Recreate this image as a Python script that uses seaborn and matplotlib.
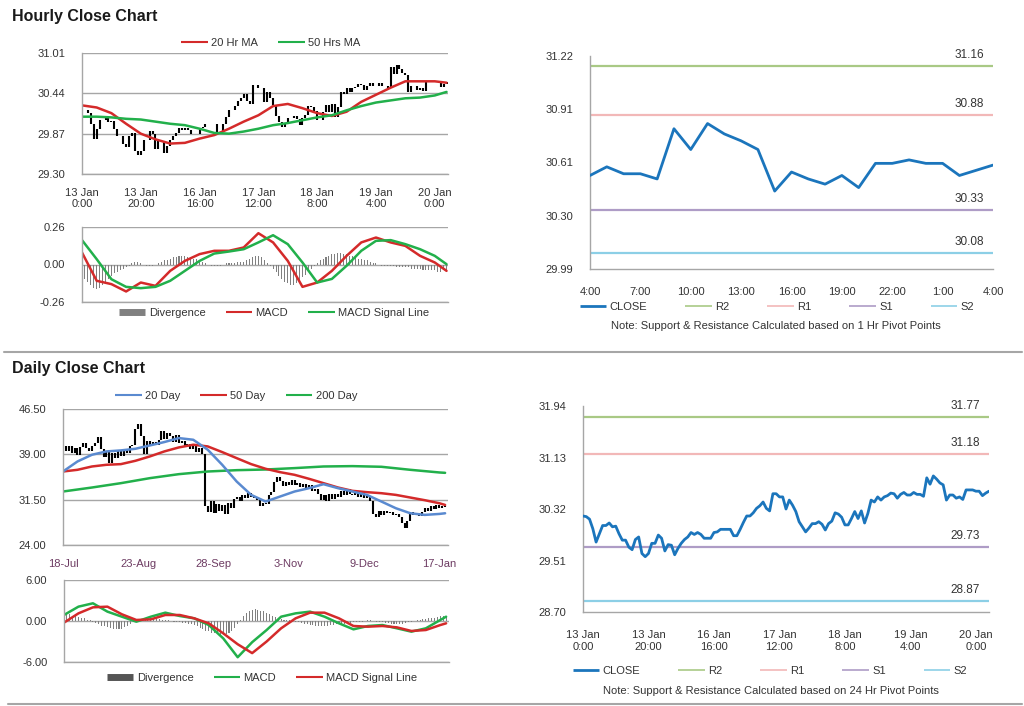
import numpy as np
import matplotlib
matplotlib.use('Agg')
import matplotlib.pyplot as plt
from matplotlib.lines import Line2D
from matplotlib.ticker import FormatStrFormatter
import seaborn as sns

# ---------------- hourly data (13 Jan 0:00 -> 20 Jan ~4:00) ----------------
hourly_close = [30.21, 30.20, 30.16, 30.01, 29.80, 29.93, 30.06, 30.06, 30.10, 30.04,
                30.05, 29.93, 29.83, 29.83, 29.72, 29.68, 29.84, 29.88, 29.62, 29.57,
                29.62, 29.78, 29.78, 29.91, 29.86, 29.66, 29.76, 29.75, 29.60, 29.70,
                29.78, 29.84, 29.88, 29.95, 29.92, 29.95, 29.92, 29.86, 29.86, 29.86,
                29.95, 29.96, 30.00, 30.00, 30.00, 30.00, 29.90, 29.90, 30.00, 30.11,
                30.21, 30.21, 30.26, 30.33, 30.37, 30.43, 30.33, 30.29, 30.56, 30.56,
                30.51, 30.51, 30.32, 30.46, 30.38, 30.28, 30.12, 30.04, 29.96, 30.02,
                30.09, 30.09, 30.12, 30.08, 29.99, 30.09, 30.13, 30.26, 30.24, 30.19,
                30.07, 30.07, 30.17, 30.28, 30.17, 30.29, 30.10, 30.25, 30.46, 30.43,
                30.51, 30.46, 30.51, 30.53, 30.57, 30.56, 30.49, 30.55, 30.58, 30.54,
                30.54, 30.58, 30.55, 30.55, 30.52, 30.81, 30.71, 30.84, 30.79, 30.73,
                30.70, 30.46, 30.54, 30.54, 30.49, 30.51, 30.47, 30.62, 30.62, 30.62,
                30.60, 30.60, 30.53, 30.57, 30.60]
hourly_ticks = ['13 Jan\n0:00', '13 Jan\n20:00', '16 Jan\n16:00', '17 Jan\n12:00',
                '18 Jan\n8:00', '19 Jan\n4:00', '20 Jan\n0:00']

hr_ma_idx = list(range(0, 121, 5)) + [124]
ma20_hr = [30.27, 30.24, 30.16, 30.01, 29.87, 29.79, 29.73, 29.74, 29.80, 29.85,
           29.94, 30.04, 30.13, 30.26, 30.29, 30.23, 30.16, 30.12, 30.18, 30.32,
           30.42, 30.52, 30.61, 30.61, 30.61, 30.59]
ma50_hr = [30.11, 30.11, 30.10, 30.08, 30.07, 30.04, 30.01, 29.99, 29.94, 29.88,
           29.87, 29.90, 29.94, 29.99, 30.02, 30.06, 30.10, 30.13, 30.20, 30.26,
           30.31, 30.34, 30.37, 30.38, 30.41, 30.46]
macd_hr = [0.083, -0.113, -0.136, -0.187, -0.125, -0.148, -0.044, 0.025, 0.072, 0.095,
           0.095, 0.118, 0.217, 0.153, 0.025, -0.155, -0.125, -0.044, 0.060, 0.153,
           0.187, 0.153, 0.129, 0.060, 0.014, -0.044]
signal_hr = [0.169, 0.037, -0.102, -0.155, -0.164, -0.155, -0.113, -0.044, 0.025, 0.076,
             0.090, 0.106, 0.153, 0.203, 0.141, 0.014, -0.125, -0.100, -0.009, 0.095,
             0.164, 0.169, 0.141, 0.106, 0.060, 0.002]
div_hr = [-0.08, -0.10, -0.12, -0.14, -0.16, -0.17, -0.16, -0.14, -0.12, -0.10,
          -0.08, -0.06, -0.05, -0.04, -0.03, -0.02, -0.01, 0.01, 0.02, 0.02,
          0.01, 0.00, -0.01, -0.01, -0.01, 0.00, 0.01, 0.02, 0.03, 0.03,
          0.04, 0.05, 0.05, 0.06, 0.06, 0.06, 0.05, 0.05, 0.04, 0.04,
          0.03, 0.02, 0.01, 0.00, -0.01, -0.01, -0.01, -0.01, 0.00, 0.01,
          0.01, 0.01, 0.01, 0.02, 0.02, 0.02, 0.03, 0.04, 0.05, 0.06,
          0.06, 0.05, 0.03, 0.01, -0.01, -0.03, -0.05, -0.08, -0.10, -0.12,
          -0.13, -0.14, -0.14, -0.13, -0.11, -0.09, -0.07, -0.05, -0.03, -0.01,
          0.01, 0.03, 0.04, 0.05, 0.06, 0.07, 0.07, 0.08, 0.08, 0.07,
          0.07, 0.06, 0.06, 0.05, 0.04, 0.04, 0.03, 0.03, 0.02, 0.01,
          0.01, 0.00, -0.01, -0.01, -0.01, -0.01, -0.01, -0.02, -0.02, -0.02,
          -0.02, -0.02, -0.03, -0.03, -0.03, -0.03, -0.04, -0.04, -0.04, -0.04,
          -0.04, -0.05, -0.05, -0.04, -0.04]

# last 24 hours, 1 Hr pivots
last_day_close = [30.53, 30.58, 30.54, 30.54, 30.51, 30.80, 30.68, 30.83, 30.77, 30.73,
                  30.68, 30.44, 30.55, 30.51, 30.48, 30.53, 30.46, 30.60, 30.60, 30.62,
                  30.60, 30.60, 30.53, 30.56, 30.59]
last_day_ticks = ['4:00', '7:00', '10:00', '13:00', '16:00', '19:00', '22:00', '1:00', '4:00']
pivot_names = ['R2', 'R1', 'S1', 'S2']
pivot_1h = [31.16, 30.88, 30.33, 30.08]
pivot_24h = [31.77, 31.18, 29.73, 28.87]

# ---------------- daily data (18-Jul -> 17-Jan) ----------------
daily_close = [40.3, 39.6, 40.4, 39.2, 40.0, 38.9, 40.2, 40.8, 40.0, 39.6,
               40.3, 40.9, 41.8, 39.8, 38.5, 39.6, 37.6, 39.3, 38.4, 39.5,
               38.8, 39.7, 39.2, 40.3, 40.6, 43.2, 44.0, 42.0, 39.0, 41.2,
               40.5, 41.0, 40.6, 41.4, 42.8, 41.6, 42.6, 42.0, 41.0, 42.2,
               40.8, 41.2, 40.2, 40.7, 39.9, 40.5, 39.4, 40.1, 39.0, 30.5,
               29.4, 31.2, 29.3, 30.8, 29.6, 30.6, 29.2, 31.0, 30.1, 31.6,
               31.9, 31.2, 32.3, 31.8, 32.6, 32.0, 31.7, 31.4, 30.4, 31.0,
               30.8, 32.2, 32.8, 34.4, 35.3, 34.6, 33.8, 34.5, 34.0, 34.8,
               33.9, 34.3, 33.6, 34.1, 33.5, 33.9, 32.9, 33.3, 32.4, 31.4,
               32.2, 31.3, 32.4, 31.6, 32.5, 32.0, 33.0, 32.3, 33.3, 32.5,
               32.2, 32.8, 31.9, 32.6, 31.8, 32.1, 31.3, 29.2, 28.6, 29.6,
               29.0, 29.7, 29.3, 29.5, 29.0, 29.2, 28.7, 27.6, 26.8, 27.9,
               29.4, 29.0, 29.3, 28.8, 29.5, 30.2, 29.7, 30.4, 30.0, 30.6,
               30.1, 30.5, 30.3]
daily_ticks = ['18-Jul', '23-Aug', '28-Sep', '3-Nov', '9-Dec', '17-Jan']

day_ma_idx = list(range(0, 131, 5)) + [132]
ma20_day = [36.16, 37.82, 38.93, 39.48, 39.65, 39.92, 40.47, 41.03, 41.69, 41.41,
            39.76, 37.27, 34.50, 32.29, 31.19, 32.02, 32.85, 33.40, 34.06, 33.40,
            32.85, 32.29, 31.19, 30.08, 29.25, 28.98, 29.14, 29.25]
ma50_day = [36.16, 36.44, 36.99, 37.27, 37.38, 37.93, 38.65, 39.48, 40.14, 40.59,
            40.31, 39.37, 38.37, 37.38, 36.61, 36.05, 35.61, 34.95, 34.23, 33.51,
            32.96, 32.74, 32.57, 32.29, 31.85, 31.41, 30.91, 30.63]
ma200_idx = list(range(0, 131, 10)) + [132]
ma200_day = [32.85, 33.51, 34.23, 35.06, 35.72, 36.16, 36.38, 36.49, 36.72, 36.99,
             37.05, 36.94, 36.44, 36.00, 35.94]
macd_day = [0.88, 2.10, 2.59, 1.37, 0.63, -0.10, 0.63, 1.22, 0.73, 0.39,
            -0.59, -2.54, -5.30, -3.10, -1.32, 0.63, 1.12, 1.37, 0.63, -0.34,
            -1.22, -0.73, -0.59, -1.07, -1.56, -1.07, 0.15, 0.63]
signal_day = [-0.24, 1.12, 2.00, 2.10, 0.98, 0.15, 0.24, 0.88, 0.88, 0.39,
              -0.34, -1.80, -3.40, -4.70, -3.00, -1.07, 0.39, 1.22, 1.22, 0.39,
              -0.73, -0.83, -0.73, -0.93, -1.46, -1.32, -0.59, -0.34]
div_day = [0.9, 1.1, 1.0, 0.8, 0.7, 0.6, 0.5, 0.4, 0.2, 0.1,
           -0.1, -0.3, -0.5, -0.7, -0.8, -0.9, -1.0, -1.1, -1.2, -1.2,
           -1.1, -0.9, -0.7, -0.5, -0.2, 0.0, 0.1, 0.2, 0.3, 0.3,
           0.4, 0.4, 0.3, 0.3, 0.2, 0.1, 0.1, 0.0, -0.1, -0.2,
           -0.2, -0.3, -0.3, -0.4, -0.5, -0.6, -0.8, -1.0, -1.2, -1.4,
           -1.5, -1.7, -1.8, -1.9, -2.0, -2.0, -1.9, -1.7, -1.4, -1.0,
           -0.5, 0.2, 0.7, 1.1, 1.4, 1.6, 1.7, 1.6, 1.5, 1.4,
           1.2, 1.0, 0.8, 0.6, 0.4, 0.3, 0.2, 0.1, 0.1, 0.0,
           -0.1, -0.2, -0.3, -0.4, -0.5, -0.6, -0.6, -0.7, -0.8, -0.8,
           -0.7, -0.7, -0.6, -0.6, -0.5, -0.5, -0.4, -0.4, -0.3, -0.3,
           -0.2, -0.2, -0.1, -0.1, 0.0, 0.1, 0.1, 0.0, -0.1, -0.2,
           -0.2, -0.3, -0.3, -0.4, -0.4, -0.4, -0.5, -0.4, -0.3, -0.2,
           -0.1, 0.0, 0.1, 0.2, 0.3, 0.3, 0.4, 0.5, 0.5, 0.6,
           0.7, 0.8, 0.6]

# ---------------- style ----------------
sns.set_style('white')
plt.rcParams['font.family'] = ['Liberation Sans', 'DejaVu Sans']

RED = '#d42a2a'
GREEN = '#22b04b'
BLUE = '#5a8ad0'
CLOSE_BLUE = '#1b75bc'
GREY = '#a6a6a6'
TXT = '#333333'
PIVOT_COLORS = ['#a9c985', '#f2b8b8', '#ae9cc6', '#8ccfe6']

W, H = 1024, 706
fig = plt.figure(figsize=(W / 100, H / 100), dpi=100)


def px_axes(x0, y0, x1, y1):
    return fig.add_axes([x0 / W, 1 - y1 / H, (x1 - x0) / W, (y1 - y0) / H])


def style(ax, grid=True, xticks=True):
    for s in ['top', 'right']:
        ax.spines[s].set_visible(False)
    for s in ['left', 'bottom']:
        ax.spines[s].set_color(GREY)
        ax.spines[s].set_linewidth(1.0)
    ax.tick_params(axis='y', colors=GREY, labelcolor=TXT, labelsize=8,
                   length=4, width=0.8, direction='out', pad=8)
    ax.tick_params(axis='x', colors=GREY, labelcolor=TXT, labelsize=8,
                   length=4 if xticks else 0, width=0.8, direction='out', pad=6)
    if grid:
        ax.grid(axis='y', color=GREY, linewidth=1.0)
        ax.set_axisbelow(True)
    ax.set_xlabel('')
    ax.set_ylabel('')


def handle(color, lw=1.5):
    return Line2D([], [], color=color, lw=lw, solid_capstyle='butt')


def add_legend(ax, handles, labels, cx, cy, colsp=1.8):
    ax.legend(handles, labels, loc='center', bbox_to_anchor=(cx / W, 1 - cy / H),
              bbox_transform=fig.transFigure, ncol=len(labels), frameon=False,
              fontsize=8, handlelength=2.4, handletextpad=0.3, columnspacing=colsp,
              labelcolor=TXT)


def price_bars(ax, close):
    # each bar runs from the previous close to this close
    c = np.array(close)
    o = np.concatenate([[c[0]], c[:-1]])
    x = np.arange(len(c))
    ax.vlines(x, np.minimum(o, c), np.maximum(o, c), color='black', linewidth=1.5)


# ---------------- Hourly close chart ----------------
fig.text(12 / W, 1 - 16 / H, 'Hourly Close Chart', fontsize=11.5, weight='bold',
         va='center', ha='left', color='#1a1a1a')

ax1 = px_axes(82, 53, 448, 174)
price_bars(ax1, hourly_close)
sns.lineplot(x=hr_ma_idx, y=ma20_hr, ax=ax1, color=RED, linewidth=1.8)
sns.lineplot(x=hr_ma_idx, y=ma50_hr, ax=ax1, color=GREEN, linewidth=1.8)
ax1.set_xlim(0, 124.5)
ax1.set_ylim(29.30, 31.01)
ax1.set_yticks([29.30, 29.87, 30.44, 31.01])
ax1.yaxis.set_major_formatter(FormatStrFormatter('%.2f'))
ax1.set_xticks(np.arange(0, 121, 20))
ax1.set_xticklabels(hourly_ticks)
style(ax1)
add_legend(ax1, [handle(RED), handle(GREEN)], ['20 Hr MA', '50 Hrs MA'], 271, 43)

ax2 = px_axes(82, 227, 448, 302)
x_hr = np.arange(len(div_hr))
ax2.bar(x_hr, div_hr, width=0.35, color='#808080', linewidth=0)
sns.lineplot(x=hr_ma_idx, y=macd_hr, ax=ax2, color=RED, linewidth=1.8)
sns.lineplot(x=hr_ma_idx, y=signal_hr, ax=ax2, color=GREEN, linewidth=1.8)
ax2.set_xlim(0, 124.5)
ax2.set_ylim(-0.26, 0.26)
ax2.set_yticks([-0.26, 0.0, 0.26])
ax2.yaxis.set_major_formatter(FormatStrFormatter('%.2f'))
ax2.set_xticks([])
style(ax2, xticks=False)
add_legend(ax2, [handle('#808080', 5), handle(RED), handle(GREEN)],
           ['Divergence', 'MACD', 'MACD Signal Line'], 274, 313)


def pivot_chart(ax, x, close, levels, ylim, yticklabels, xticks, xticklabels,
                legend_xy, note, note_xy):
    for v, c in zip(levels, PIVOT_COLORS):
        ax.axhline(v, color=c, linewidth=1.6, zorder=1)
        ax.annotate(f'{v:.2f}', xy=(1, v), xycoords=('axes fraction', 'data'),
                    xytext=(-9, 5), textcoords='offset pixels', ha='right', va='bottom',
                    fontsize=8.5, color=TXT)
    sns.lineplot(x=x, y=close, ax=ax, color=CLOSE_BLUE, linewidth=2.0, zorder=3)
    ax.set_ylim(*ylim)
    ax.set_yticks(np.linspace(ylim[0], ylim[1], len(yticklabels)))
    ax.set_yticklabels(yticklabels)
    ax.set_xticks(xticks)
    ax.set_xticklabels(xticklabels)
    style(ax, grid=False)
    ax.tick_params(axis='x', pad=9)
    handles = [handle(CLOSE_BLUE, 2)] + [handle(c, 1.2) for c in PIVOT_COLORS]
    add_legend(ax, handles, ['CLOSE'] + pivot_names, legend_xy[0], legend_xy[1], colsp=3.4)
    fig.text(note_xy[0] / W, 1 - note_xy[1] / H, note, ha='center', va='center',
             fontsize=8, color=TXT)


ax3 = px_axes(590, 56, 993, 269)
pivot_chart(ax3, np.arange(len(last_day_close)), last_day_close, pivot_1h,
            (29.99, 31.22), ['29.99', '30.30', '30.61', '30.91', '31.22'],
            np.arange(0, 25, 3), last_day_ticks, (777, 307),
            'Note: Support & Resistance Calculated based on 1 Hr Pivot Points', (776, 326))
ax3.set_xlim(0, 24)

# separator
fig.add_artist(Line2D([4 / W, 1022 / W], [1 - 352 / H] * 2, color=GREY, lw=1.5))

# ---------------- Daily close chart ----------------
fig.text(12 / W, 1 - 369 / H, 'Daily Close Chart', fontsize=11.5, weight='bold',
         va='center', ha='left', color='#1a1a1a')

ax4 = px_axes(63, 409, 448, 545)
price_bars(ax4, daily_close)
sns.lineplot(x=ma200_idx, y=ma200_day, ax=ax4, color=GREEN, linewidth=1.8)
sns.lineplot(x=day_ma_idx, y=ma50_day, ax=ax4, color=RED, linewidth=1.8)
sns.lineplot(x=day_ma_idx, y=ma20_day, ax=ax4, color=BLUE, linewidth=1.8)
ax4.set_xlim(0, 133)
ax4.set_ylim(24, 46.5)
ax4.set_yticks([24.0, 31.5, 39.0, 46.5])
ax4.yaxis.set_major_formatter(FormatStrFormatter('%.2f'))
ax4.set_xticks(np.arange(0, 131, 26))
ax4.set_xticklabels(daily_ticks)
style(ax4)
ax4.tick_params(axis='x', labelcolor='#6d3b62')
add_legend(ax4, [handle(BLUE), handle(RED), handle(GREEN)],
           ['20 Day', '50 Day', '200 Day'], 236, 396)

ax5 = px_axes(64, 580, 449, 662)
x_day = np.arange(len(div_day))
ax5.bar(x_day, div_day, width=0.35, color='#808080', linewidth=0)
sns.lineplot(x=day_ma_idx, y=macd_day, ax=ax5, color=GREEN, linewidth=1.8)
sns.lineplot(x=day_ma_idx, y=signal_day, ax=ax5, color=RED, linewidth=1.8)
ax5.set_xlim(0, 133)
ax5.set_ylim(-6, 6)
ax5.set_yticks([-6.0, 0.0, 6.0])
ax5.yaxis.set_major_formatter(FormatStrFormatter('%.2f'))
ax5.set_xticks([])
style(ax5, xticks=False)
add_legend(ax5, [handle('#555555', 5), handle(GREEN), handle(RED)],
           ['Divergence', 'MACD', 'MACD Signal Line'], 262, 678)

ax6 = px_axes(583, 406, 989, 612)
pivot_chart(ax6, np.arange(len(hourly_close)), hourly_close, pivot_24h,
            (28.70, 31.94), ['28.70', '29.51', '30.32', '31.13', '31.94'],
            np.arange(0, 121, 20), hourly_ticks, (770, 671),
            'Note: Support & Resistance Calculated based on 24 Hr Pivot Points', (771, 691))
ax6.set_xlim(0, 124)

fig.add_artist(Line2D([8 / W, 1022 / W], [1 - 704 / H] * 2, color=GREY, lw=1.5))

fig.savefig('out.png', dpi=100, facecolor='white')
